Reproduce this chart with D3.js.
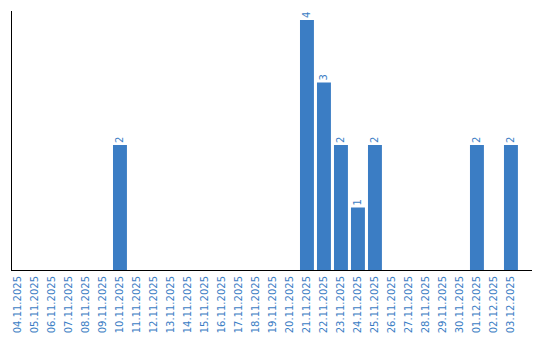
<!DOCTYPE html>
<html>
<head>
<meta charset="utf-8">
<script src="https://cdn.jsdelivr.net/npm/d3@7"></script>
<style>
  body { margin: 0; background: #fff; }
  text { font-family: "DejaVu Sans", Verdana, sans-serif; }
</style>
</head>
<body>
<div id="chart"></div>
<script>
// Data
const dates = [
  '04.11.2025', '05.11.2025', '06.11.2025', '07.11.2025', '08.11.2025',
  '09.11.2025', '10.11.2025', '11.11.2025', '12.11.2025', '13.11.2025',
  '14.11.2025', '15.11.2025', '16.11.2025', '17.11.2025', '18.11.2025',
  '19.11.2025', '20.11.2025', '21.11.2025', '22.11.2025', '23.11.2025',
  '24.11.2025', '25.11.2025', '26.11.2025', '27.11.2025', '28.11.2025',
  '29.11.2025', '30.11.2025', '01.12.2025', '02.12.2025', '03.12.2025'
]
const counts = [
  0, 0, 0, 0, 0, 0, 2, 0, 0, 0,
  0, 0, 0, 0, 0, 0, 0, 4, 3, 2,
  1, 2, 0, 0, 0, 0, 0, 2, 0, 2
]

function draw() {
  const dataset = dates.map((d, i) => ({ date: d, count: counts[i] }))

  // Dimensions
  const dimensions = {
    width: 540,
    height: 340,
    left: 11,
    right: 9,
    top: 10,
    bottom: 70
  }
  dimensions.ctrWidth = dimensions.width - dimensions.left - dimensions.right
  dimensions.ctrHeight = dimensions.height - dimensions.top - dimensions.bottom

  const color = '#3b7dc4'

  const svg = d3.select('#chart')
    .append('svg')
    .attr('width', dimensions.width)
    .attr('height', dimensions.height)

  const ctr = svg.append('g')
    .attr('transform', `translate(${dimensions.left}, ${dimensions.top})`)

  // Scales
  const xScale = d3.scaleBand()
    .domain(dates)
    .range([0, dimensions.ctrWidth])
    .paddingInner(0.18)
    .paddingOuter(0.385)
    .align(0)

  const yScale = d3.scaleLinear()
    .domain([0, d3.max(counts) * 1.04])
    .range([dimensions.ctrHeight, 0])

  // Bars
  const nonZero = dataset.filter(d => d.count > 0)

  ctr.selectAll('rect')
    .data(nonZero)
    .join('rect')
    .attr('x', d => xScale(d.date))
    .attr('y', d => yScale(d.count))
    .attr('width', xScale.bandwidth())
    .attr('height', d => dimensions.ctrHeight - yScale(d.count))
    .attr('fill', color)

  // Value labels
  ctr.selectAll('.value')
    .data(nonZero)
    .join('text')
    .attr('class', 'value')
    .attr('transform', d =>
      `translate(${xScale(d.date) + xScale.bandwidth() / 2}, ${yScale(d.count) - 2}) rotate(-90)`)
    .attr('dy', '0.35em')
    .attr('font-size', 10)
    .attr('fill', color)
    .text(d => d.count)

  // Axes
  const xAxis = d3.axisBottom(xScale).tickSize(0).tickSizeOuter(0)
  const xAxisGroup = ctr.append('g')
    .attr('transform', `translate(0, ${dimensions.ctrHeight})`)
    .call(xAxis)
  xAxisGroup.select('.domain')
    .attr('stroke', '#000')
    .attr('shape-rendering', 'crispEdges')
  xAxisGroup.selectAll('text')
    .attr('font-size', 10)
    .attr('font-family', '"DejaVu Sans", Verdana, sans-serif')
    .attr('fill', color)
    .attr('text-anchor', 'end')
    .attr('transform', 'rotate(-90)')
    .attr('x', -6)
    .attr('y', 0)
    .attr('dy', '0.35em')

  const yAxis = d3.axisLeft(yScale).ticks(0).tickSize(0).tickSizeOuter(0)
  const yAxisGroup = ctr.append('g').call(yAxis)
  yAxisGroup.select('.domain')
    .attr('stroke', '#000')
    .attr('shape-rendering', 'crispEdges')
}

draw()
</script>
</body>
</html>
